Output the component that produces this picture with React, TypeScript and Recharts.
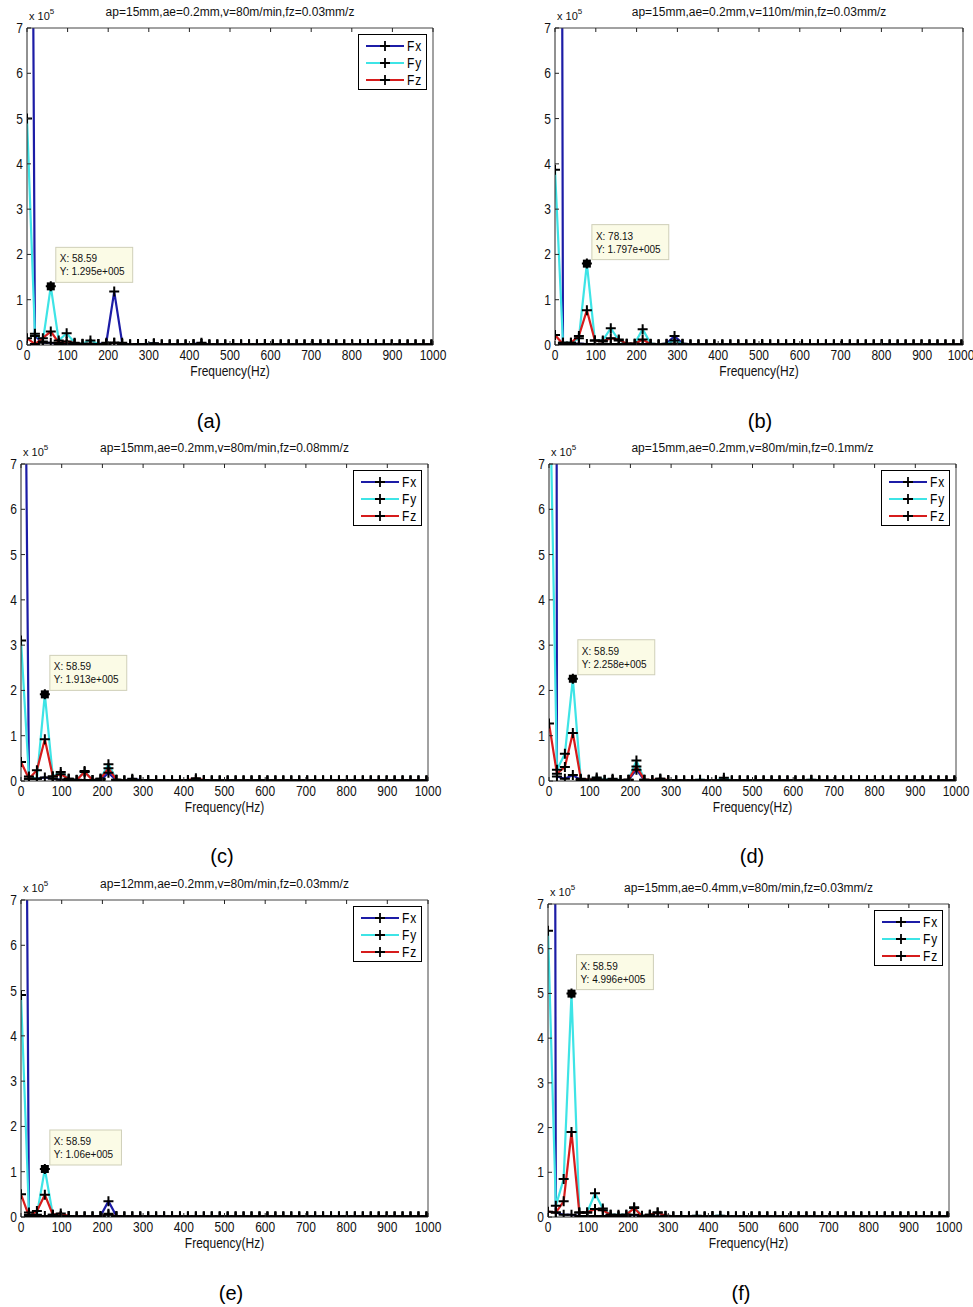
import { LineChart, Line, XAxis, YAxis, ReferenceDot, Legend } from "recharts";

// FFT bins (Hz), 19.53 Hz resolution
const FREQ = [
  0, 19.53, 39.06, 58.59, 78.13, 97.66, 117.19, 136.72, 156.25, 175.78, 195.31, 214.84, 234.38,
  253.91, 273.44, 292.97, 312.5, 332.03, 351.56, 371.09, 390.63, 410.16, 429.69, 449.22, 468.75,
  488.28, 507.81, 527.34, 546.88, 566.41, 585.94, 605.47, 625, 644.53, 664.06, 683.59, 703.13,
  722.66, 742.19, 761.72, 781.25, 800.78, 820.31, 839.84, 859.38, 878.91, 898.44, 917.97, 937.5,
  957.03, 976.56, 996.09,
];

const X_TICKS = [0, 100, 200, 300, 400, 500, 600, 700, 800, 900, 1000];
const Y_TICKS = [0, 1, 2, 3, 4, 5, 6, 7];

// amplitudes in units of 10^5
const A_FX = [34, 0.2, 0.05, 0.05, 0.02, 0.03, 0.02, 0.01, 0.01, 0.02, 0.05, 1.18, 0.05, 0.01, 0.02, 0.02, 0.04, 0.01, 0.01, 0.01, 0.01, 0.02, 0.05, 0.01, 0.01, 0.01, 0.02, 0.01, 0.01, 0.01, 0.02, 0.01, 0.01, 0.01, 0.01, 0.01, 0.02, 0.01, 0.01, 0.01, 0.01, 0.01, 0.01, 0.01, 0.01, 0.01, 0.01, 0.01, 0.01, 0.01, 0.01, 0.01];
const A_FY = [5.0, 0.25, 0.08, 1.295, 0.1, 0.26, 0.05, 0.03, 0.1, 0.02, 0.02, 0.05, 0.02, 0.01, 0.01, 0.02, 0.03, 0.01, 0.01, 0.01, 0.01, 0.01, 0.03, 0.01, 0.01, 0.01, 0.01, 0.01, 0.01, 0.01, 0.01, 0.01, 0.01, 0.01, 0.01, 0.01, 0.01, 0.01, 0.01, 0.01, 0.01, 0.01, 0.01, 0.01, 0.01, 0.01, 0.01, 0.01, 0.01, 0.01, 0.01, 0.01];
const A_FZ = [0.15, 0.02, 0.15, 0.3, 0.05, 0.08, 0.04, 0.02, 0.03, 0.01, 0.02, 0.05, 0.02, 0.01, 0.01, 0.01, 0.02, 0.01, 0.01, 0.01, 0.01, 0.01, 0.02, 0.01, 0.01, 0.01, 0.01, 0.01, 0.01, 0.01, 0.01, 0.01, 0.01, 0.01, 0.01, 0.01, 0.01, 0.01, 0.01, 0.01, 0.01, 0.01, 0.01, 0.01, 0.01, 0.01, 0.01, 0.01, 0.01, 0.01, 0.01, 0.01];

const B_FX = [80, 0.05, 0.02, 0.03, 0.02, 0.02, 0.02, 0.02, 0.02, 0.01, 0.01, 0.02, 0.01, 0.01, 0.03, 0.2, 0.03, 0.01, 0.01, 0.01, 0.01, 0.01, 0.01, 0.01, 0.01, 0.01, 0.02, 0.01, 0.01, 0.01, 0.02, 0.01, 0.01, 0.01, 0.01, 0.01, 0.01, 0.01, 0.01, 0.01, 0.01, 0.02, 0.01, 0.01, 0.01, 0.01, 0.01, 0.01, 0.01, 0.01, 0.01, 0.01];
const B_FY = [3.87, 0.05, 0.05, 0.15, 1.797, 0.1, 0.1, 0.37, 0.1, 0.03, 0.03, 0.35, 0.03, 0.01, 0.02, 0.1, 0.02, 0.01, 0.01, 0.01, 0.01, 0.01, 0.01, 0.01, 0.01, 0.01, 0.01, 0.01, 0.01, 0.01, 0.01, 0.01, 0.01, 0.01, 0.01, 0.01, 0.01, 0.01, 0.01, 0.01, 0.01, 0.01, 0.01, 0.01, 0.01, 0.01, 0.01, 0.01, 0.01, 0.01, 0.01, 0.01];
const B_FZ = [0.22, 0.02, 0.05, 0.2, 0.77, 0.1, 0.08, 0.15, 0.12, 0.03, 0.03, 0.12, 0.02, 0.01, 0.01, 0.03, 0.01, 0.01, 0.01, 0.01, 0.01, 0.01, 0.01, 0.01, 0.01, 0.01, 0.01, 0.01, 0.01, 0.01, 0.01, 0.01, 0.01, 0.01, 0.01, 0.01, 0.01, 0.01, 0.01, 0.01, 0.01, 0.01, 0.01, 0.01, 0.01, 0.01, 0.01, 0.01, 0.01, 0.01, 0.01, 0.01];

const C_FX = [21, 0.05, 0.05, 0.08, 0.05, 0.03, 0.02, 0.01, 0.02, 0.01, 0.02, 0.18, 0.02, 0.01, 0.05, 0.02, 0.01, 0.01, 0.01, 0.01, 0.01, 0.01, 0.02, 0.01, 0.01, 0.01, 0.01, 0.01, 0.01, 0.01, 0.02, 0.01, 0.01, 0.01, 0.01, 0.01, 0.01, 0.01, 0.01, 0.01, 0.01, 0.01, 0.01, 0.01, 0.01, 0.01, 0.01, 0.01, 0.01, 0.01, 0.01, 0.01];
const C_FY = [3.1, 0.1, 0.05, 1.913, 0.1, 0.2, 0.05, 0.03, 0.22, 0.02, 0.05, 0.37, 0.03, 0.01, 0.03, 0.01, 0.02, 0.01, 0.01, 0.01, 0.01, 0.01, 0.03, 0.01, 0.01, 0.01, 0.01, 0.01, 0.01, 0.01, 0.01, 0.01, 0.01, 0.01, 0.01, 0.01, 0.01, 0.01, 0.01, 0.01, 0.01, 0.01, 0.01, 0.01, 0.01, 0.01, 0.01, 0.01, 0.01, 0.01, 0.01, 0.01];
const C_FZ = [0.42, 0.05, 0.24, 0.92, 0.1, 0.15, 0.05, 0.02, 0.2, 0.02, 0.05, 0.28, 0.03, 0.01, 0.02, 0.01, 0.01, 0.01, 0.01, 0.01, 0.01, 0.02, 0.06, 0.02, 0.01, 0.01, 0.01, 0.01, 0.01, 0.01, 0.01, 0.01, 0.01, 0.01, 0.01, 0.01, 0.01, 0.01, 0.01, 0.01, 0.01, 0.01, 0.01, 0.01, 0.01, 0.01, 0.01, 0.01, 0.01, 0.01, 0.01, 0.01];

const D_FX = [200, 0.1, 0.05, 0.13, 0.02, 0.02, 0.02, 0.01, 0.02, 0.01, 0.02, 0.25, 0.02, 0.01, 0.02, 0.01, 0.01, 0.01, 0.01, 0.01, 0.01, 0.01, 0.02, 0.01, 0.01, 0.01, 0.01, 0.01, 0.01, 0.01, 0.01, 0.01, 0.01, 0.02, 0.01, 0.01, 0.01, 0.01, 0.01, 0.01, 0.01, 0.01, 0.01, 0.01, 0.01, 0.01, 0.01, 0.01, 0.01, 0.01, 0.01, 0.01];
const D_FY = [9.9, 0.25, 0.6, 2.258, 0.03, 0.03, 0.08, 0.03, 0.05, 0.02, 0.03, 0.45, 0.03, 0.01, 0.05, 0.01, 0.01, 0.01, 0.01, 0.03, 0.01, 0.01, 0.07, 0.01, 0.01, 0.01, 0.01, 0.01, 0.01, 0.01, 0.01, 0.01, 0.01, 0.03, 0.01, 0.01, 0.01, 0.01, 0.01, 0.01, 0.01, 0.01, 0.01, 0.01, 0.01, 0.01, 0.01, 0.01, 0.01, 0.01, 0.01, 0.01];
const D_FZ = [1.27, 0.16, 0.31, 1.06, 0.05, 0.03, 0.05, 0.02, 0.03, 0.02, 0.03, 0.32, 0.03, 0.02, 0.05, 0.02, 0.01, 0.01, 0.01, 0.02, 0.01, 0.01, 0.03, 0.01, 0.01, 0.01, 0.01, 0.01, 0.01, 0.01, 0.01, 0.01, 0.01, 0.01, 0.01, 0.01, 0.01, 0.01, 0.01, 0.01, 0.01, 0.01, 0.01, 0.01, 0.01, 0.01, 0.01, 0.01, 0.01, 0.01, 0.01, 0.01];

const E_FX = [30, 0.05, 0.02, 0.02, 0.01, 0.02, 0.01, 0.01, 0.01, 0.01, 0.02, 0.35, 0.02, 0.01, 0.01, 0.01, 0.01, 0.01, 0.01, 0.01, 0.01, 0.01, 0.01, 0.01, 0.01, 0.01, 0.01, 0.01, 0.01, 0.01, 0.01, 0.01, 0.01, 0.01, 0.01, 0.01, 0.01, 0.01, 0.01, 0.01, 0.01, 0.01, 0.01, 0.01, 0.01, 0.01, 0.01, 0.01, 0.01, 0.01, 0.01, 0.01];
const E_FY = [4.9, 0.1, 0.05, 1.06, 0.05, 0.03, 0.02, 0.01, 0.01, 0.01, 0.01, 0.05, 0.01, 0.01, 0.01, 0.01, 0.01, 0.01, 0.01, 0.01, 0.01, 0.01, 0.01, 0.01, 0.01, 0.01, 0.01, 0.01, 0.01, 0.01, 0.01, 0.01, 0.01, 0.01, 0.01, 0.01, 0.01, 0.01, 0.01, 0.01, 0.01, 0.01, 0.01, 0.01, 0.01, 0.01, 0.01, 0.01, 0.01, 0.01, 0.01, 0.01];
const E_FZ = [0.5, 0.02, 0.13, 0.49, 0.05, 0.08, 0.02, 0.01, 0.01, 0.01, 0.01, 0.07, 0.01, 0.01, 0.01, 0.01, 0.01, 0.01, 0.01, 0.01, 0.01, 0.01, 0.01, 0.01, 0.01, 0.01, 0.01, 0.01, 0.01, 0.01, 0.01, 0.01, 0.01, 0.01, 0.01, 0.01, 0.01, 0.01, 0.01, 0.01, 0.01, 0.01, 0.01, 0.01, 0.01, 0.01, 0.01, 0.01, 0.01, 0.01, 0.01, 0.01];

const F_FX = [100, 0.1, 0.05, 0.05, 0.02, 0.02, 0.02, 0.02, 0.01, 0.01, 0.02, 0.05, 0.01, 0.01, 0.01, 0.01, 0.01, 0.01, 0.01, 0.01, 0.01, 0.01, 0.01, 0.01, 0.01, 0.01, 0.01, 0.01, 0.01, 0.01, 0.01, 0.01, 0.01, 0.01, 0.01, 0.01, 0.01, 0.01, 0.01, 0.01, 0.01, 0.01, 0.01, 0.01, 0.01, 0.01, 0.01, 0.01, 0.01, 0.01, 0.01, 0.01];
const F_FY = [6.4, 0.25, 0.85, 4.996, 0.1, 0.1, 0.53, 0.19, 0.05, 0.05, 0.05, 0.22, 0.03, 0.05, 0.1, 0.02, 0.01, 0.02, 0.01, 0.03, 0.01, 0.02, 0.03, 0.01, 0.01, 0.01, 0.01, 0.01, 0.01, 0.01, 0.01, 0.01, 0.01, 0.01, 0.01, 0.01, 0.01, 0.01, 0.01, 0.01, 0.01, 0.01, 0.01, 0.01, 0.01, 0.01, 0.01, 0.01, 0.01, 0.01, 0.01, 0.01];
const F_FZ = [0.12, 0.1, 0.35, 1.9, 0.1, 0.1, 0.18, 0.15, 0.05, 0.03, 0.05, 0.2, 0.02, 0.05, 0.1, 0.03, 0.01, 0.01, 0.01, 0.01, 0.01, 0.01, 0.02, 0.01, 0.01, 0.01, 0.01, 0.01, 0.01, 0.01, 0.01, 0.01, 0.01, 0.01, 0.01, 0.01, 0.01, 0.01, 0.01, 0.01, 0.01, 0.01, 0.01, 0.01, 0.01, 0.01, 0.01, 0.01, 0.01, 0.01, 0.01, 0.01];

const TITLES = [
  "ap=15mm,ae=0.2mm,v=80m/min,fz=0.03mm/z",
  "ap=15mm,ae=0.2mm,v=110m/min,fz=0.03mm/z",
  "ap=15mm,ae=0.2mm,v=80m/min,fz=0.08mm/z",
  "ap=15mm,ae=0.2mm,v=80m/min,fz=0.1mm/z",
  "ap=12mm,ae=0.2mm,v=80m/min,fz=0.03mm/z",
  "ap=15mm,ae=0.4mm,v=80m/min,fz=0.03mm/z",
];
const CAPTIONS = ["(a)", "(b)", "(c)", "(d)", "(e)", "(f)"];
const TIP_X = [58.59, 78.13, 58.59, 58.59, 58.59, 58.59];
const TIP_Y = [1.295, 1.797, 1.913, 2.258, 1.06, 4.996];
const TIP_Y_TEXT = ["1.295e+005", "1.797e+005", "1.913e+005", "2.258e+005", "1.06e+005", "4.996e+005"];
const SERIES_NAMES = ["Fx", "Fy", "Fz"];

const FONT = '"Liberation Sans", Arial, Helvetica, sans-serif';
const COLORS = ["#1c1ca6", "#3ee4e6", "#d61c1c"];
const M = 30;
const PAGE_W = 973;

// plot-area boxes on the page
const LAYOUT = [
  { x: 27, y: 28, w: 406, h: 317, cap: [209, 421], legend: true },
  { x: 555, y: 28, w: 408, h: 317, cap: [760, 421], legend: false },
  { x: 21, y: 464, w: 407, h: 317, cap: [222, 856], legend: true },
  { x: 549, y: 464, w: 407, h: 317, cap: [752, 856], legend: true },
  { x: 21, y: 900, w: 407, h: 317, cap: [231, 1293], legend: true },
  { x: 548, y: 904, w: 401, h: 313, cap: [741, 1293], legend: true },
];

const SERIES = [
  [A_FX, A_FY, A_FZ],
  [B_FX, B_FY, B_FZ],
  [C_FX, C_FY, C_FZ],
  [D_FX, D_FY, D_FZ],
  [E_FX, E_FY, E_FZ],
  [F_FX, F_FY, F_FZ],
];

const STRETCH = 1.17;

function Plus(props: any) {
  const { cx, cy, index } = props;
  if (cx == null || cy == null) return <g key={index} />;
  return (
    <path
      key={index}
      d={`M${cx - 5},${cy}H${cx + 5}M${cx},${cy - 5}V${cy + 5}`}
      stroke="#000"
      strokeWidth={2}
      fill="none"
    />
  );
}

function BottomTick(p: any) {
  const tx = Math.min(p.x, (p.limit ?? 9999) - 12);
  return (
    <g>
      <line x1={p.x} y1={p.y} x2={p.x} y2={p.y - 4} stroke="#222" />
      <text
        transform={`translate(${tx},${p.y + 15}) scale(1,${STRETCH})`}
        textAnchor="middle"
        fontSize={12}
        fontFamily={FONT}
        fill="#111"
      >
        {p.payload.value}
      </text>
    </g>
  );
}

function TopTick(p: any) {
  return <line x1={p.x} y1={p.y} x2={p.x} y2={p.y + 4} stroke="#222" />;
}

function LeftTick(p: any) {
  return (
    <g>
      <line x1={p.x} y1={p.y} x2={p.x + 4} y2={p.y} stroke="#222" />
      <text
        transform={`translate(${p.x - 4},${p.y + 5}) scale(1,${STRETCH})`}
        textAnchor="end"
        fontSize={12}
        fontFamily={FONT}
        fill="#111"
      >
        {p.payload.value}
      </text>
    </g>
  );
}

function RightTick(p: any) {
  return <line x1={p.x} y1={p.y} x2={p.x - 4} y2={p.y} stroke="#222" />;
}

function DataTip(props: any) {
  const { cx, cy, xText, yText } = props;
  if (cx == null || cy == null) return <g />;
  const w = yText.length * 5.3 + 8;
  return (
    <g>
      <rect x={cx + 5} y={cy - 39} width={w} height={35} fill="#fbfbe6" stroke="#cfcfb8" />
      <text x={cx + 9} y={cy - 24} fontSize={10} fontFamily={FONT} fill="#111">
        {xText}
      </text>
      <text x={cx + 9} y={cy - 11} fontSize={10} fontFamily={FONT} fill="#111">
        {yText}
      </text>
      <rect x={cx - 4} y={cy - 4} width={8} height={8} fill="#000" />
    </g>
  );
}

function LegendBox() {
  return (
    <div
      style={{
        width: 67,
        height: 54,
        border: "1px solid #000",
        background: "#fff",
        fontFamily: FONT,
        fontSize: 12,
        position: "relative",
      }}
    >
      {SERIES_NAMES.map((name, i) => (
        <div key={name} style={{ position: "absolute", left: 0, top: 4 + i * 17, height: 16, width: 67 }}>
          <svg width={45} height={16} style={{ position: "absolute", left: 5, top: 0 }}>
            <line x1={2} y1={7} x2={40} y2={7} stroke={COLORS[i]} strokeWidth={2} />
            <path d="M21,2V12M16,7H26" stroke="#000" strokeWidth={1.8} />
          </svg>
          <span
            style={{
              position: "absolute",
              left: 48,
              top: 0,
              lineHeight: "14px",
              letterSpacing: 1,
              display: "inline-block",
              transform: `scaleY(${STRETCH})`,
            }}
          >
            {name}
          </span>
        </div>
      ))}
    </div>
  );
}

function Panel({ idx }: { idx: number }) {
  const box = LAYOUT[idx];
  const [fx, fy, fz] = SERIES[idx];
  const rows = FREQ.map((f, i) => ({ f, fx: fx[i], fy: fy[i], fz: fz[i] }));
  const W = box.w + 2 * M;
  const H = box.h + 2 * M;
  const cx = box.x + box.w / 2;
  const limit = PAGE_W - (box.x - M);

  return (
    <>
      <div style={{ position: "absolute", left: box.x - M, top: box.y - M }}>
        <LineChart width={W} height={H} data={rows} margin={{ top: 0, right: 0, bottom: 0, left: 0 }}>
          <XAxis
            dataKey="f"
            type="number"
            domain={[0, 1000]}
            ticks={X_TICKS}
            interval={0}
            height={M}
            tickSize={0}
            tickMargin={0}
            tickLine={false}
            axisLine={{ stroke: "#222" }}
            tick={<BottomTick limit={limit} />}
            allowDataOverflow
          />
          <XAxis
            xAxisId="top"
            orientation="top"
            dataKey="f"
            type="number"
            domain={[0, 1000]}
            ticks={X_TICKS}
            interval={0}
            height={M}
            tickSize={0}
            tickMargin={0}
            tickLine={false}
            axisLine={{ stroke: "#444" }}
            tick={<TopTick />}
          />
          <YAxis
            type="number"
            domain={[0, 7]}
            ticks={Y_TICKS}
            interval={0}
            width={M}
            tickSize={0}
            tickMargin={0}
            tickLine={false}
            axisLine={{ stroke: "#222" }}
            tick={<LeftTick />}
            allowDataOverflow
          />
          <YAxis
            yAxisId="right"
            orientation="right"
            type="number"
            domain={[0, 7]}
            ticks={Y_TICKS}
            interval={0}
            width={M}
            tickSize={0}
            tickMargin={0}
            tickLine={false}
            axisLine={{ stroke: "#444" }}
            tick={<RightTick />}
          />
          {["fx", "fy", "fz"].map((k, i) => (
            <Line
              key={k}
              dataKey={k}
              name={SERIES_NAMES[i]}
              type="linear"
              stroke={COLORS[i]}
              strokeWidth={2.2}
              dot={(p: any) => <Plus key={`${k}-${p.index}`} {...p} />}
              activeDot={false}
              isAnimationActive={false}
            />
          ))}
          <ReferenceDot
            x={TIP_X[idx]}
            y={TIP_Y[idx]}
            r={4}
            shape={(p: any) => (
              <DataTip {...p} xText={`X: ${TIP_X[idx]}`} yText={`Y: ${TIP_Y_TEXT[idx]}`} />
            )}
          />
          {box.legend && (
            <Legend
              layout="vertical"
              align="center"
              verticalAlign="middle"
              content={() => <LegendBox />}
              wrapperStyle={{ left: M + box.w - 75, top: M + 6, width: 69, height: 56 }}
            />
          )}
        </LineChart>
      </div>
      <div
        style={{
          position: "absolute",
          left: cx,
          top: box.y - 22,
          transform: "translateX(-50%)",
          whiteSpace: "nowrap",
          fontFamily: FONT,
          fontSize: 12,
          lineHeight: "12px",
          color: "#111",
        }}
      >
        {TITLES[idx]}
      </div>
      <div
        style={{
          position: "absolute",
          left: box.x + 2,
          top: box.y - 18,
          whiteSpace: "nowrap",
          fontFamily: FONT,
          fontSize: 11,
          lineHeight: "12px",
          color: "#111",
        }}
      >
        x 10
        <span style={{ fontSize: 8, position: "relative", top: -6 }}>5</span>
      </div>
      <div
        style={{
          position: "absolute",
          left: cx,
          top: box.y + box.h + 20,
          transform: `translateX(-50%) scaleY(${STRETCH})`,
          whiteSpace: "nowrap",
          fontFamily: FONT,
          fontSize: 12,
          lineHeight: "12px",
          color: "#111",
        }}
      >
        Frequency(Hz)
      </div>
      <div
        style={{
          position: "absolute",
          left: box.cap[0],
          top: box.cap[1] - 11,
          transform: "translateX(-50%)",
          whiteSpace: "nowrap",
          fontFamily: FONT,
          fontSize: 20,
          lineHeight: "22px",
          color: "#000",
        }}
      >
        {CAPTIONS[idx]}
      </div>
    </>
  );
}

export default function App() {
  return (
    <div style={{ position: "absolute", left: 0, top: 0, width: 973, height: 1307, background: "#fff", overflow: "hidden" }}>
      {CAPTIONS.map((_, i) => (
        <Panel key={i} idx={i} />
      ))}
    </div>
  );
}
